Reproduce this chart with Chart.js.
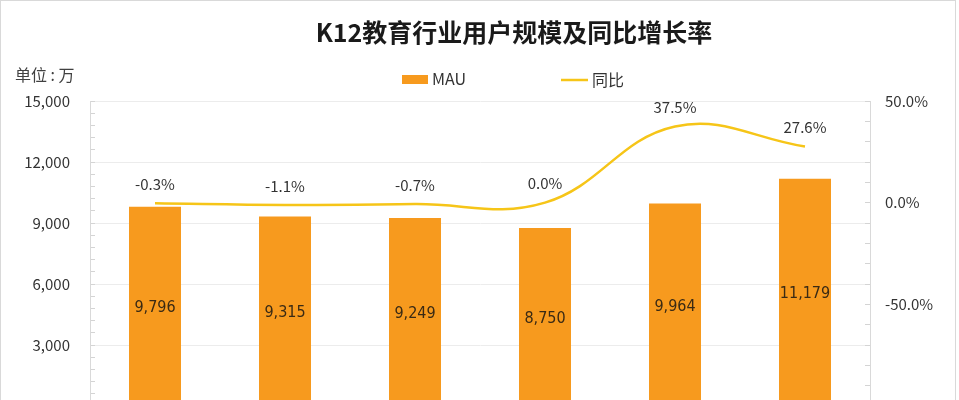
<!DOCTYPE html>
<html>
<head>
<meta charset="utf-8">
<script src="https://cdn.jsdelivr.net/npm/chart.js@4/dist/chart.umd.min.js"></script>
<style>
  html, body { margin: 0; padding: 0; background: #fff; overflow: hidden; }
  #frame { position: relative; width: 956px; height: 400px; overflow: hidden; border: 1px solid #d9d9d9; border-bottom: none; box-sizing: border-box; }
  #wrap { position: absolute; left: -1px; top: -1px; width: 959px; height: 440px; }
</style>
</head>
<body>
<div id="frame"><div id="wrap"><canvas id="chart" width="959" height="440"></canvas></div></div>
<script>
// data
const categories = ['2019年9月', '2019年10月', '2019年11月', '2019年12月', '2020年1月', '2020年2月'];
const mauValues = [9796, 9315, 9249, 8750, 9964, 11179];
const yoyValues = [-0.3, -1.1, -0.7, 0.0, 37.5, 27.6];
const leftTicks = [0, 3000, 6000, 9000, 12000, 15000];
const rightTicks = [-100, -50, 0, 50];

const titleText = 'K12教育行业用户规模及同比增长率';
const barColor = '#F79A1E';
const lineColor = '#F6C518';
const cjkFont = '"Noto Sans CJK SC", "Noto Sans", sans-serif';
const narrowFont = '"DejaVu Sans Condensed", "Liberation Sans Narrow", sans-serif';

// value labels on bars and line
const valueLabels = {
    id: 'valueLabels',
    afterDatasetsDraw(chart) {
        const ctx = chart.ctx;
        ctx.save();
        ctx.textAlign = 'center';
        ctx.textBaseline = 'middle';
        chart.data.datasets.forEach((ds, i) => {
            const meta = chart.getDatasetMeta(i);
            meta.data.forEach((el, j) => {
                if (ds.type === 'bar') {
                    ctx.font = '16px ' + narrowFont;
                    ctx.fillStyle = '#3a2a14';
                    ctx.fillText(ds.data[j].toLocaleString('en-US'), el.x, (el.y + el.base) / 2 + 2);
                } else {
                    ctx.font = '15px ' + cjkFont;
                    ctx.fillStyle = '#333';
                    ctx.fillText(ds.data[j].toFixed(1) + '%', el.x, el.y - 19);
                }
            });
        });
        ctx.restore();
    }
};

// title, unit text and legend drawn at the top
const header = {
    id: 'header',
    afterDraw(chart) {
        const ctx = chart.ctx;
        const top = chart.chartArea.top;
        ctx.save();
        ctx.textBaseline = 'middle';

        ctx.fillStyle = '#1a1a1a';
        ctx.font = 'bold 25px ' + cjkFont;
        ctx.textAlign = 'center';
        ctx.fillText(titleText, 514, 32);

        ctx.fillStyle = '#404040';
        ctx.font = '16px ' + cjkFont;
        ctx.textAlign = 'left';
        ctx.fillText('单位 : 万', 15, top - 26);

        const bar = chart.data.datasets.find(d => d.type === 'bar');
        const line = chart.data.datasets.find(d => d.type === 'line');
        const ly = top - 22;
        ctx.fillStyle = bar.backgroundColor;
        ctx.fillRect(402, ly - 4, 26, 9);
        ctx.fillStyle = '#333';
        ctx.fillText(bar.label, 432, ly);

        ctx.strokeStyle = line.borderColor;
        ctx.lineWidth = 2.5;
        ctx.beginPath();
        ctx.moveTo(561, ly + 1);
        ctx.lineTo(588, ly + 1);
        ctx.stroke();
        ctx.fillText(line.label, 592, ly + 1);
        ctx.restore();
    }
};

new Chart(document.getElementById('chart'), {
    data: {
        labels: categories,
        datasets: [
            {
                type: 'line',
                label: '同比',
                data: yoyValues,
                yAxisID: 'y1',
                borderColor: lineColor,
                borderWidth: 2.5,
                tension: 0.4,
                pointRadius: 0,
                fill: false,
                order: 0,
            },
            {
                type: 'bar',
                label: 'MAU',
                data: mauValues,
                yAxisID: 'y',
                backgroundColor: barColor,
                categoryPercentage: 1,
                barPercentage: 0.4,
                order: 1,
            },
        ],
    },
    options: {
        responsive: false,
        animation: false,
        layout: { padding: { top: 101 } },
        plugins: {
            legend: { display: false },
            tooltip: { enabled: false },
            title: { display: false },
        },
        scales: {
            x: {
                grid: { display: false },
                border: { display: false },
                ticks: { font: { family: cjkFont, size: 14 }, color: '#333' },
                afterFit(scale) { scale.height = 34; },
            },
            y: {
                position: 'left',
                min: leftTicks[0],
                max: leftTicks[leftTicks.length - 1],
                border: { color: '#d9d9d9' },
                grid: {
                    color: c => (c.tick && leftTicks.includes(c.tick.value)) ? '#ececec' : 'rgba(0,0,0,0)',
                    tickColor: '#d4d4d4',
                    tickLength: -5,
                },
                ticks: {
                    stepSize: 600,
                    autoSkip: false,
                    padding: 25,
                    color: '#333',
                    font: { family: cjkFont, size: 15 },
                    callback: v => leftTicks.includes(v) ? v.toLocaleString('en-US') : '',
                },
                afterFit(scale) { scale.width = 90; },
            },
            y1: {
                position: 'right',
                min: rightTicks[0],
                max: rightTicks[rightTicks.length - 1],
                border: { color: '#d9d9d9' },
                grid: {
                    drawOnChartArea: false,
                    tickColor: '#d4d4d4',
                    tickLength: -5,
                },
                ticks: {
                    stepSize: 10,
                    autoSkip: false,
                    padding: 20,
                    color: '#333',
                    font: { family: cjkFont, size: 15 },
                    callback: v => rightTicks.includes(v) ? v.toFixed(1) + '%' : '',
                },
                afterFit(scale) { scale.width = 89; },
            },
        },
    },
    plugins: [valueLabels, header],
});
</script>
</body>
</html>
